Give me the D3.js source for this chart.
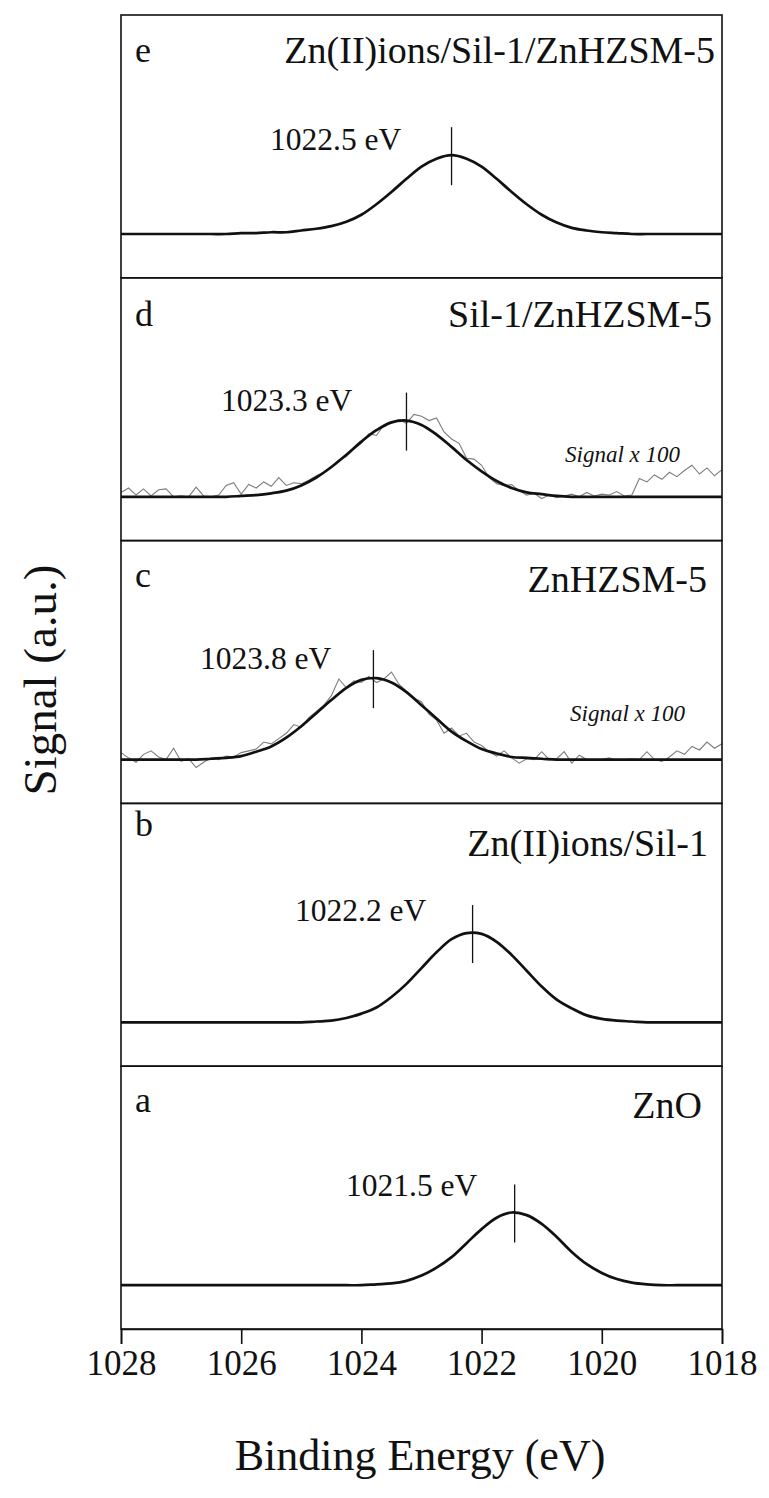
<!DOCTYPE html>
<html><head><meta charset="utf-8">
<script src="https://cdn.jsdelivr.net/npm/d3@7"></script>
<style>
body{margin:0;background:#fff}
svg text{font-family:"Liberation Serif","Times New Roman",Times,"DejaVu Serif",serif;fill:#111}
</style>
</head><body>
<svg id="chart" width="769" height="1498"></svg>
<script>
// ---------- data ----------
const energies = [1028,1027.75,1027.5,1027.25,1027,1026.75,1026.5,1026.25,1026,1025.75,1025.5,1025.25,1025,1024.75,1024.5,1024.25,1024,1023.75,1023.5,1023.25,1023,1022.75,1022.5,1022.25,1022,1021.75,1021.5,1021.25,1021,1020.75,1020.5,1020.25,1020,1019.75,1019.5,1019.25,1019,1018.75,1018.5,1018.25,1018];
const rawEnergies = [1028,1027.875,1027.75,1027.625,1027.5,1027.375,1027.25,1027.125,1027,1026.875,1026.75,1026.625,1026.5,1026.375,1026.25,1026.125,1026,1025.875,1025.75,1025.625,1025.5,1025.375,1025.25,1025.125,1025,1024.875,1024.75,1024.625,1024.5,1024.375,1024.25,1024.125,1024,1023.875,1023.75,1023.625,1023.5,1023.375,1023.25,1023.125,1023,1022.875,1022.75,1022.625,1022.5,1022.375,1022.25,1022.125,1022,1021.875,1021.75,1021.625,1021.5,1021.375,1021.25,1021.125,1021,1020.875,1020.75,1020.625,1020.5,1020.375,1020.25,1020.125,1020,1019.875,1019.75,1019.625,1019.5,1019.375,1019.25,1019.125,1019,1018.875,1018.75,1018.625,1018.5,1018.375,1018.25,1018.125,1018];

const panelLetters = ["e","d","c","b","a"];
const panelTitles = ["Zn(II)ions/Sil-1/ZnHZSM-5","Sil-1/ZnHZSM-5","ZnHZSM-5","Zn(II)ions/Sil-1","ZnO"];
const peakLabels = ["1022.5 eV","1023.3 eV","1023.8 eV","1022.2 eV","1021.5 eV"];
const peakPositions = [1022.5,1023.25,1023.8,1022.15,1021.45];
const scaleNote = "Signal x 100";
const xTicks = [1028,1026,1024,1022,1020,1018];
const xTitle = "Binding Energy (eV)";
const yTitle = "Signal (a.u.)";

// fitted curves (e, d, c, b, a)
const fitE = [0,0,0,0,0,0,0,0,0.01,0.01,0.02,0.02,0.04,0.06,0.09,0.14,0.22,0.34,0.48,0.63,0.77,0.86,0.90,0.86,0.77,0.63,0.48,0.34,0.22,0.13,0.07,0.04,0.02,0.01,0,0,0,0,0,0,0];
const fitD = [0,0,0,0,0,0,0,0,0.01,0.02,0.04,0.07,0.13,0.22,0.34,0.48,0.63,0.76,0.85,0.87,0.82,0.71,0.57,0.42,0.29,0.18,0.10,0.05,0.03,0.01,0,0,0,0,0,0,0,0,0,0,0];
const fitC = [0,0,0,0,0,0,0.01,0.02,0.04,0.09,0.15,0.25,0.38,0.53,0.68,0.82,0.91,0.93,0.88,0.77,0.62,0.47,0.32,0.21,0.12,0.07,0.03,0.02,0.01,0,0,0,0,0,0,0,0,0,0,0,0];
const fitB = [0,0,0,0,0,0,0,0,0,0,0,0,0,0.01,0.02,0.05,0.10,0.17,0.29,0.44,0.62,0.80,0.95,1.02,1.01,0.92,0.77,0.59,0.41,0.26,0.16,0.08,0.04,0.02,0.01,0,0,0,0,0,0];
const fitA = [0,0,0,0,0,0,0,0,0,0,0,0,0,0,0,0,0,0.01,0.02,0.05,0.11,0.20,0.32,0.48,0.64,0.77,0.83,0.80,0.70,0.55,0.38,0.24,0.14,0.07,0.03,0.01,0,0,0,0,0];

// raw (x100) spectra for d and c
const rawD = [0.05,0.10,0.02,0.09,0.01,0.08,0.09,0.00,0.01,0.00,0.11,0.01,0.00,0.02,0.13,0.16,0.03,0.14,0.10,0.17,0.12,0.22,0.13,0.16,0.15,0.19,0.24,0.28,0.33,0.42,0.46,0.55,0.61,0.72,0.70,0.82,0.84,0.88,0.84,0.94,0.92,0.87,0.90,0.74,0.66,0.61,0.44,0.43,0.36,0.22,0.15,0.13,0.14,0.07,0.02,0.04,-0.02,0.02,-0.01,0.01,0.03,0.00,0.05,0.01,0.03,0.02,0.06,0.01,0.02,0.21,0.17,0.25,0.20,0.28,0.23,0.30,0.36,0.26,0.33,0.24,0.31];
const rawC = [0.08,0.02,-0.03,0.06,0.10,0.03,0.00,0.13,-0.02,0.01,-0.09,-0.03,0.02,0.00,0.04,0.03,0.08,0.10,0.12,0.20,0.18,0.24,0.30,0.40,0.37,0.48,0.55,0.62,0.73,0.92,0.82,0.90,0.88,0.95,0.88,0.92,1.00,0.86,0.78,0.70,0.66,0.52,0.45,0.30,0.36,0.27,0.30,0.20,0.16,0.09,0.04,0.10,0.02,-0.04,0.01,0.00,0.09,0.00,0.01,0.09,-0.04,0.05,0.00,-0.01,0.00,0.02,-0.01,0.00,0.01,0.00,0.09,0.00,-0.02,0.03,0.10,0.06,0.15,0.11,0.20,0.13,0.18];

const fits = [fitE, fitD, fitC, fitB, fitA];
const raws = [null, rawD, rawC, null, null];

// ---------- layout (positions/styles) ----------
const L = 121, R = 722, T = 15, PH = 262.8;
const letterDy = [47,48,46,33,46];
const titleRight = [715,712,707,708,702];
const titleDy = [48,49,51,53,52];
const annX = [270,221,200,295,346];
const annDy = [135,133,128,118,130];
const noteRight = [null,680,685,null,null];
const noteDy = [null,184,180,null,null];
const FONT = "Liberation Serif, Times New Roman, Times, DejaVu Serif, serif";

const svg = d3.select("#chart");
const x = d3.scaleLinear().domain([1028,1018]).range([L,R]);

fits.forEach((fit,i)=>{
  const top = T + i*PH, bottom = top + PH;
  const y = d3.scaleLinear().domain([-0.5,2.5]).range([bottom, top]);
  const g = svg.append("g");

  const line = d3.line().x(d=>x(d[0])).y(d=>y(d[1])).curve(d3.curveCatmullRom.alpha(0.5));

  if (raws[i]) {
    g.append("path").datum(rawEnergies.map((e,k)=>[e,raws[i][k]]))
      .attr("d", d3.line().x(d=>x(d[0])).y(d=>y(d[1])))
      .attr("fill","none").attr("stroke","#7d7d7d").attr("stroke-width",1.1);
  }
  g.append("path").datum(energies.map((e,k)=>[e,fit[k]]))
    .attr("d", line).attr("fill","none").attr("stroke","#111").attr("stroke-width",2.7)
    .attr("stroke-linejoin","round");

  const pk = d3.max(fit);
  g.append("line").attr("x1",x(peakPositions[i])).attr("x2",x(peakPositions[i]))
    .attr("y1",y(pk)-28).attr("y2",y(pk)+30).attr("stroke","#111").attr("stroke-width",1.3);

  g.append("rect").attr("x",L).attr("y",top).attr("width",R-L).attr("height",PH)
    .attr("fill","none").attr("stroke","#111").attr("stroke-width",1.6);

  g.append("text").attr("x",135).attr("y",top+letterDy[i]).attr("font-family",FONT).attr("font-size",36).text(panelLetters[i]);
  g.append("text").attr("x",titleRight[i]).attr("y",top+titleDy[i]).attr("text-anchor","end")
    .attr("font-family",FONT).attr("font-size",38).text(panelTitles[i]);
  g.append("text").attr("x",annX[i]).attr("y",top+annDy[i]).attr("font-family",FONT).attr("font-size",31.5).text(peakLabels[i]);
  if (noteRight[i]) {
    g.append("text").attr("x",noteRight[i]).attr("y",top+noteDy[i]).attr("text-anchor","end")
      .attr("font-family",FONT).attr("font-size",23).attr("font-style","italic").attr("fill","#333").text(scaleNote);
  }
});

const bottomY = T + 5*PH;
const ax = svg.append("g").attr("transform",`translate(0,${bottomY})`)
  .call(d3.axisBottom(x).tickValues(xTicks).tickSize(15).tickPadding(6).tickFormat(d3.format("d")));
ax.attr("font-family",FONT);
ax.select(".domain").attr("stroke","#111").attr("stroke-width",1.6);
ax.selectAll(".tick line").attr("stroke","#111").attr("stroke-width",1.6);
ax.selectAll(".tick text").attr("font-size",35).attr("font-family",FONT).attr("fill","#111");

svg.append("text").attr("x",420).attr("y",1470).attr("text-anchor","middle").attr("font-family",FONT).attr("font-size",44).text(xTitle);
svg.append("text").attr("transform","translate(56,680) rotate(-90)").attr("text-anchor","middle")
  .attr("font-family",FONT).attr("font-size",47).text(yTitle);
</script>
</body></html>
